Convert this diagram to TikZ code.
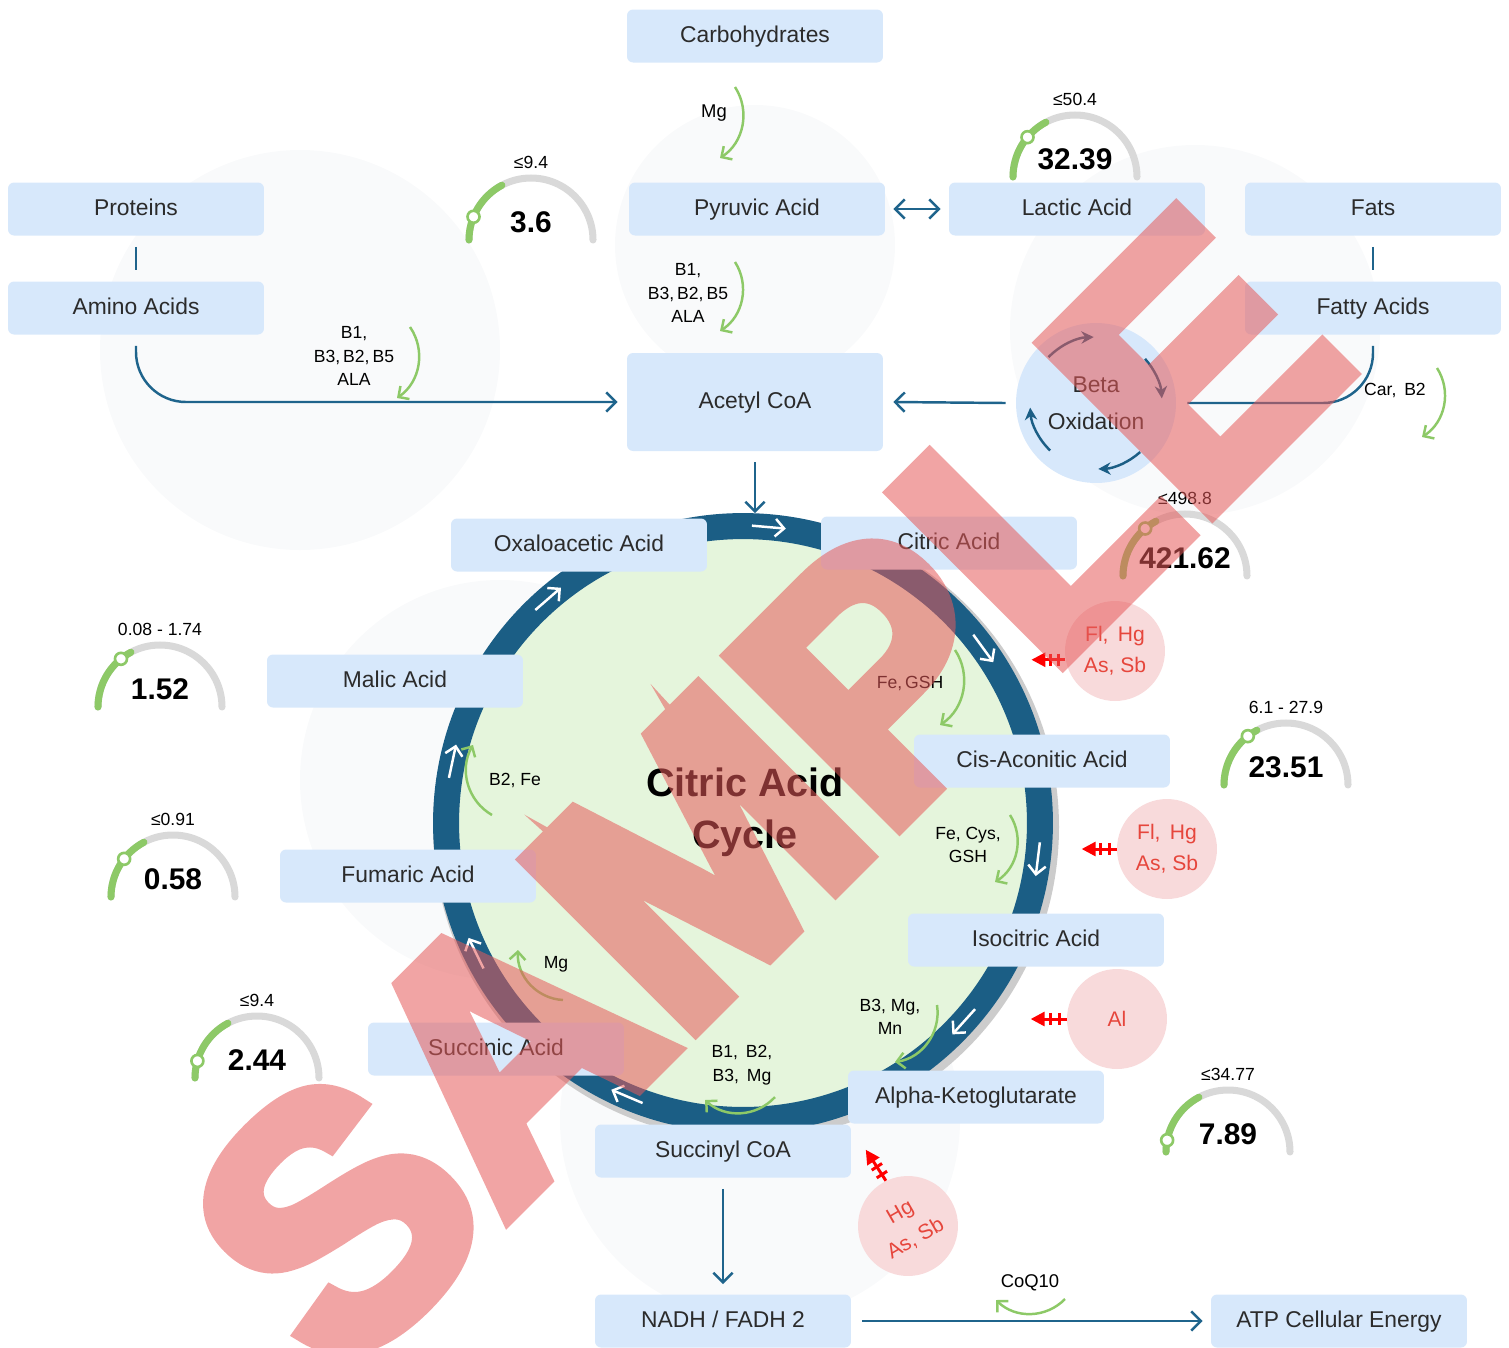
\documentclass[tikz,border=0pt]{standalone}
\usepackage{fontspec}
\setmainfont{Liberation Sans}
\newfontfamily\stampfont[FakeBold=5]{Liberation Sans}
\usepackage{tikz}
\usetikzlibrary{arrows.meta, positioning, calc, decorations.markings}

\definecolor{boxblue}{RGB}{215,232,251}
\definecolor{flowblue}{RGB}{31,100,140}
\definecolor{ringblue}{RGB}{27,94,133}
\definecolor{cofgreen}{RGB}{141,201,103}
\definecolor{gaugegray}{RGB}{217,217,217}
\definecolor{toxfill}{RGB}{248,218,219}
\definecolor{toxtext}{RGB}{230,70,60}
\definecolor{cyclegreen}{RGB}{229,245,220}
\definecolor{textgray}{RGB}{43,43,43}
\definecolor{faint}{RGB}{249,250,251}
\definecolor{stamp}{RGB}{230,90,90}

\tikzset{
  box/.style={fill=boxblue, rounded corners=0.12cm, minimum width=5.12cm, minimum height=1.06cm,
    text=textgray, font=\fontsize{13}{15}\selectfont, text height=0.72em, text depth=0pt},
  flow/.style={draw=flowblue, line width=1.4pt},
  cof/.style={draw=cofgreen, line width=1.4pt, -{Straight Barb[length=4.5pt,width=9pt]}, bend left=45},
  coflab/.style={font=\fontsize{10}{13.3}\selectfont, align=center, inner sep=0pt},
  toxin/.style={circle, fill=toxfill, minimum size=2cm, inner sep=0pt, text=toxtext, align=center,
    font=\fontsize{12}{17.5}\selectfont},
  crossbar/.style={draw=red, line width=1.7pt, -},
  inhib/.style={draw=red, line width=1.7pt, -{Triangle[length=8pt,width=8pt]}, postaction={decorate},
    decoration={markings,
      mark=at position 0.2 with {\draw[crossbar] (0,-3.5pt) -- (0,3.5pt);},
      mark=at position 0.45 with {\draw[crossbar] (0,-3.5pt) -- (0,3.5pt);}}},
  ringarr/.style={draw=white, line width=1.4pt, -{Straight Barb[length=5pt,width=10pt]}},
  betaarr/.style={draw=ringblue, line width=1.4pt, -{Stealth[length=7pt,width=7pt]}},
  gaugebg/.style={draw=gaugegray, line width=4pt, line cap=round},
  gaugefg/.style={draw=cofgreen, line width=4pt, line cap=round},
  gaugemk/.style={draw=cofgreen, fill=white, line width=1.5pt},
  gaugelim/.style={font=\fontsize{10}{12}\selectfont},
  gaugeval/.style={font=\fontsize{17}{20}\bfseries\selectfont},
}

\begin{document}
\begin{tikzpicture}[x=0.02cm, y=0.02cm, >={Straight Barb[length=5.5pt,width=11pt]}]
\useasboundingbox (0,0) rectangle (1509,-1347);
\clip (0,0) rectangle (1509,-1347);

% faint background
\fill[faint] (300,-350) circle[radius=200];
\fill[faint] (755,-245) circle[radius=140];
\fill[faint] (1195,-330) circle[radius=185];
\fill[faint] (500,-780) circle[radius=200];
\fill[faint] (760,-1120) circle[radius=200];

% Krebs cycle ring
\fill[gray!40] (746,-827) circle[radius=313];
\node[circle, draw=ringblue, line width=0.52cm, fill=cyclegreen, minimum size=11.88cm, inner sep=0pt] (cyc) at (743,-823) {};
\foreach \a in {85,131,36,-7,-42,-113,168,206}
  \draw[ringarr] ($(cyc)+(\a:297)+(\a+90:17)$) -- ($(cyc)+(\a:297)+(\a-90:17)$);
\node[font=\fontsize{22.5}{29.5}\bfseries\selectfont, align=center] (title) at (745,-812) {Citric Acid\\Cycle};

% cofactors inside the cycle
\draw[cof] (955,-650) to (940,-725);
\node[coflab] (cfa) at (910,-683) {Fe,\,GSH};
\draw[cof] (1010,-815) to (995,-882);
\node[coflab] (cfb) at (968,-845) {Fe, Cys,\\GSH};
\draw[cof] (937,-1005) to (895,-1062);
\node[coflab] (cfc) at (890,-1017) {B3, Mg,\\Mn};
\draw[cof] (775,-1097) to (705,-1100);
\node[coflab] (cfd) at (742,-1065) {B1,\, B2,\\B3,\, Mg};
\draw[cof] (563,-1000) to (518,-950);
\node[coflab] (cfe) at (556,-964) {Mg};
\draw[cof] (492,-815) to (473,-745);
\node[coflab] (cff) at (515,-780) {B2, Fe};

% nutrients and intermediates
\node[box] (carb) at (755,-36) {Carbohydrates};
\node[box] (prot) at (136,-209) {Proteins};
\node[box] (pyr) at (757,-209) {Pyruvic Acid};
\node[box] (lac) at (1077,-209) {Lactic Acid};
\node[box] (fats) at (1373,-209) {Fats};
\node[box] (amino) at (136,-308) {Amino Acids};
\node[box] (fatty) at (1373,-308) {Fatty Acids};
\node[box, minimum height=1.96cm] (acetyl) at (755,-402) {Acetyl CoA};
\node[box] (oxa) at (579,-545) {Oxaloacetic Acid};
\node[box] (cit) at (949,-543) {Citric Acid};
\node[box] (mal) at (395,-681) {Malic Acid};
\node[box] (cis) at (1042,-761) {Cis-Aconitic Acid};
\node[box] (fum) at (408,-876) {Fumaric Acid};
\node[box] (iso) at (1036,-940) {Isocitric Acid};
\node[box] (sucn) at (496,-1049) {Succinic Acid};
\node[box] (akg) at (976,-1097) {Alpha-Ketoglutarate};
\node[box] (succ) at (723,-1151) {Succinyl CoA};
\node[box] (nadh) at (723,-1321) {NADH / FADH 2};
\node[box] (atp) at (1339,-1321) {ATP Cellular Energy};

% beta oxidation
\node[circle, fill=boxblue, minimum size=3.2cm, inner sep=0pt, align=center, text=textgray,
  font=\fontsize{13}{21}\selectfont] (beta) at (1096,-403) {Beta\\Oxidation};
\foreach \s/\e in {136/92, 42/4, -48/-88, -134/-176}
  \draw[betaarr] ($(beta)+(\s:66)$) arc[start angle=\s, end angle=\e, radius=66];

% connectors
\draw[flow] ([yshift=-0.22cm]prot.south) -- ([yshift=0.22cm]amino.north);
\draw[flow] ([yshift=-0.22cm]fats.south) -- ([yshift=0.22cm]fatty.north);
\draw[flow, ->, rounded corners=1cm] ([yshift=-0.22cm]amino.south) |- ([xshift=-0.18cm]acetyl.west);
\draw[flow, rounded corners=1cm] ([yshift=-0.22cm]fatty.south) |- ([xshift=0.22cm]beta.east);
\draw[flow, ->] ([xshift=-0.2cm]beta.west) -- ([xshift=0.2cm]acetyl.east);
\draw[flow, <->] ([xshift=0.16cm]pyr.east) -- ([xshift=-0.16cm]lac.west);
\draw[flow, ->] ([yshift=-0.22cm]acetyl.south) -- (acetyl.south |- cyc.north);
\draw[flow, ->] ([yshift=-0.22cm]succ.south) -- ([yshift=0.2cm]nadh.north);
\draw[flow, ->] ([xshift=0.22cm]nadh.east) -- ([xshift=-0.16cm]atp.west);

% cofactors outside
\draw[cof] (735,-87) to (720,-158);
\node[coflab, font=\fontsize{10.5}{13}\selectfont] (cmg) at (714,-113) {Mg};
\draw[cof] (735,-262) to (720,-331);
\node[coflab] (cpyr) at (688,-293) {B1,\\B3,\,B2,\,B5\\ALA};
\draw[cof] (410,-327) to (397,-398);
\node[coflab] (camino) at (354,-356) {B1,\\B3,\,B2,\,B5\\ALA};
\draw[cof] (1437,-368) to (1422,-437);
\node[coflab] (cfat) at (1395,-390) {Car,\, B2};
\draw[cof] (1065,-1299) to (996,-1300);
\node[coflab, font=\fontsize{10.5}{13}\selectfont] (cq) at (1030,-1283) {CoQ10};

% gauges
\foreach \n/\cx/\cy/\lim/\val/\mk in {
    a/531/240/{≤9.4}/3.6/158, b/1075/177/{≤50.4}/32.39/140,
    c/1185/576/{≤498.8}/421.62/130, d/160/707/{0.08 - 1.74}/1.52/129,
    e/1286/785/{6.1 - 27.9}/23.51/128, f/173/897/{≤0.91}/0.58/142,
    g/257/1078/{≤9.4}/2.44/164, h/1228/1152/{≤34.77}/7.89/169}{
  \draw[gaugebg] (\cx+62,-\cy) arc[start angle=0, end angle=180, radius=62];
  \draw[gaugefg] (\cx-62,-\cy) arc[start angle=180, end angle=118, radius=62];
  \draw[gaugemk] (\cx,-\cy) ++(\mk:62) circle[radius=6];
  \node[gaugelim] (lim\n) at (\cx,-\cy+78) {\lim};
  \node[gaugeval] (val\n) at (\cx,-\cy+18) {\val};
}

% inhibitors
\node[toxin] (tox1) at (1115,-651) {Fl,\, Hg\\As, Sb};
\node[toxin] (tox2) at (1167,-849) {Fl,\, Hg\\As, Sb};
\node[toxin] (tox3) at (1117,-1019) {Al};
\node[toxin, rotate=30] (tox4) at (908,-1226) {Hg\\As, Sb};
\draw[inhib] (tox1.190) -- ++(-34,0);
\draw[inhib] (tox2.west) -- ++(-35,0);
\draw[inhib] (tox3.west) -- ++(-36,0);
\draw[inhib] (tox4.86) -- ++(123:37);

% watermark
\begin{scope}[transparency group, opacity=0.55]
\node[rotate=45, text=stamp, font=\stampfont\fontsize{197}{197}\bfseries\selectfont] (mark) at (765,-790) {SAMPLE};
\end{scope}
\end{tikzpicture}
\end{document}
